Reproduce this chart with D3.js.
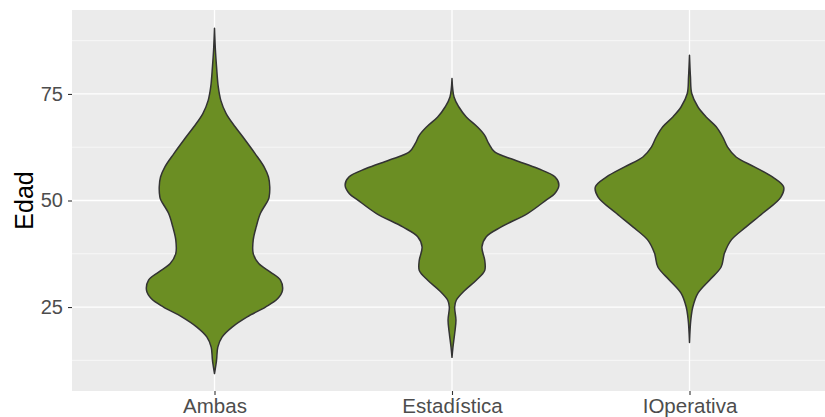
<!DOCTYPE html>
<html>
<head>
<meta charset="utf-8">
<script src="https://cdn.jsdelivr.net/npm/d3@7"></script>
<style>
  body { margin: 0; background: #fff; }
  text { font-family: "Liberation Sans", Arial, sans-serif; }
</style>
</head>
<body>
<svg width="825" height="417"></svg>
<script>
const svg = d3.select("svg"),
      width = +svg.attr("width"),
      height = +svg.attr("height");

const margin = {top: 10, right: -7, bottom: 26, left: 72};

// categories and ticks
const grupos = ["Ambas", "Estadística", "IOperativa"];
const yTicks = [25, 50, 75];
const yMinor = [12.5, 37.5, 62.5, 87.5];

// density outlines (edad, relative density)
const ambasEdad = [90.4, 85.5, 81.4, 76.7, 73.5, 70.4, 67.3, 64.2, 61.0, 57.9, 55.5, 53.2, 50.8, 50, 47, 43.8, 40.7, 37.6, 35.2, 33.2, 31.3, 28.9, 27.0, 25, 22.7, 20.3, 18.0, 15.6, 12.5, 9.4];
const ambasDens = [0, 0.008, 0.019, 0.035, 0.059, 0.109, 0.193, 0.287, 0.380, 0.464, 0.505, 0.517, 0.511, 0.50, 0.43, 0.39, 0.362, 0.362, 0.414, 0.523, 0.617, 0.636, 0.592, 0.477, 0.306, 0.165, 0.072, 0.031, 0.019, 0];

const estEdad = [78.6, 74.3, 72.0, 69.6, 67.3, 65.3, 63.4, 61.4, 59.5, 57.5, 55.5, 53.6, 51.6, 50.1, 47, 43.8, 41.5, 39.1, 36.0, 33.6, 31.3, 28.9, 26.6, 25, 21.9, 18.8, 15.6, 13.2];
const estDens = [0, 0.019, 0.063, 0.134, 0.236, 0.306, 0.343, 0.399, 0.586, 0.804, 0.965, 1.0, 0.96, 0.881, 0.71, 0.461, 0.321, 0.28, 0.306, 0.306, 0.227, 0.119, 0.04, 0.025, 0.037, 0.025, 0.009, 0];

const ioEdad = [84.1, 79.0, 75.1, 72.0, 69.6, 67.3, 64.9, 62.6, 60.2, 57.9, 55.5, 53.2, 50.8, 47, 43.8, 40.7, 37.6, 34.4, 31.3, 28.2, 25, 21.9, 16.7];
const ioDens = [0, 0.009, 0.021, 0.078, 0.156, 0.25, 0.311, 0.355, 0.436, 0.607, 0.779, 0.881, 0.855, 0.685, 0.53, 0.39, 0.327, 0.296, 0.187, 0.078, 0.031, 0.012, 0];

const violines = [
  {grupo: "Ambas", edad: ambasEdad, dens: ambasDens},
  {grupo: "Estadística", edad: estEdad, dens: estDens},
  {grupo: "IOperativa", edad: ioEdad, dens: ioDens}
];

const colors = {
  panel: "#EBEBEB",
  grid: "#FFFFFF",
  fill: "#6B8E23",
  stroke: "#333333",
  text: "#4D4D4D"
}

const x = d3.scalePoint()
  .domain(grupos)
  .range([margin.left, width - margin.right])
  .padding(0.6);

const y = d3.scaleLinear()
  .domain([5.3, 94.7])
  .range([height - margin.bottom, margin.top]);

const halfW = d3.scaleLinear()
  .domain([0, 1])
  .range([0, x.step() * 0.45]);

// panel
svg.append("rect")
  .attr("x", margin.left)
  .attr("y", margin.top)
  .attr("width", width - margin.right - margin.left)
  .attr("height", height - margin.bottom - margin.top)
  .attr("fill", colors.panel);

// grid
svg.append("g").selectAll("line")
  .data(yMinor).enter().append("line")
  .attr("x1", margin.left).attr("x2", width)
  .attr("y1", d => y(d)).attr("y2", d => y(d))
  .attr("stroke", colors.grid).attr("stroke-width", 0.6);

svg.append("g").selectAll("line")
  .data(yTicks).enter().append("line")
  .attr("x1", margin.left).attr("x2", width)
  .attr("y1", d => y(d)).attr("y2", d => y(d))
  .attr("stroke", colors.grid).attr("stroke-width", 1.3);

svg.append("g").selectAll("line")
  .data(grupos).enter().append("line")
  .attr("x1", d => x(d)).attr("x2", d => x(d))
  .attr("y1", margin.top).attr("y2", height - margin.bottom)
  .attr("stroke", colors.grid).attr("stroke-width", 1.3);

// violins
const area = d3.area()
  .curve(d3.curveCatmullRom.alpha(0.5))
  .y(d => y(d.edad))
  .x0(d => d.cx - halfW(d.dens))
  .x1(d => d.cx + halfW(d.dens));

svg.append("g").selectAll("path")
  .data(violines).enter().append("path")
  .attr("d", function(v) {
    const pts = v.edad.map((e, i) => ({edad: e, dens: v.dens[i], cx: x(v.grupo)}));
    return area(pts);
  })
  .attr("fill", colors.fill)
  .attr("stroke", colors.stroke)
  .attr("stroke-width", 1.5)
  .attr("stroke-linejoin", "round");

// y axis
const yAxis = svg.append("g")
  .attr("transform", `translate(${margin.left},0)`)
  .call(d3.axisLeft(y).tickValues(yTicks).tickSize(4).tickPadding(5));
yAxis.select(".domain").remove();
yAxis.selectAll("line").attr("stroke", "#333333").attr("stroke-width", 1.1);
yAxis.selectAll("text").attr("fill", colors.text).style("font-size", "20px")
  .style("font-family", "Liberation Sans, Arial, sans-serif");

// x axis
const xAxis = svg.append("g")
  .attr("transform", `translate(0,${height - margin.bottom})`)
  .call(d3.axisBottom(x).tickSize(4).tickPadding(3));
xAxis.select(".domain").remove();
xAxis.selectAll("line").attr("stroke", "#333333").attr("stroke-width", 1.1);
xAxis.selectAll("text").attr("fill", colors.text).style("font-size", "20.5px")
  .style("font-family", "Liberation Sans, Arial, sans-serif");

// y label
svg.append("text")
  .attr("transform", `translate(33,${(margin.top + height - margin.bottom) / 2}) rotate(-90)`)
  .attr("text-anchor", "middle")
  .style("font-size", "25px")
  .attr("fill", "#000")
  .text("Edad");
</script>
</body>
</html>
